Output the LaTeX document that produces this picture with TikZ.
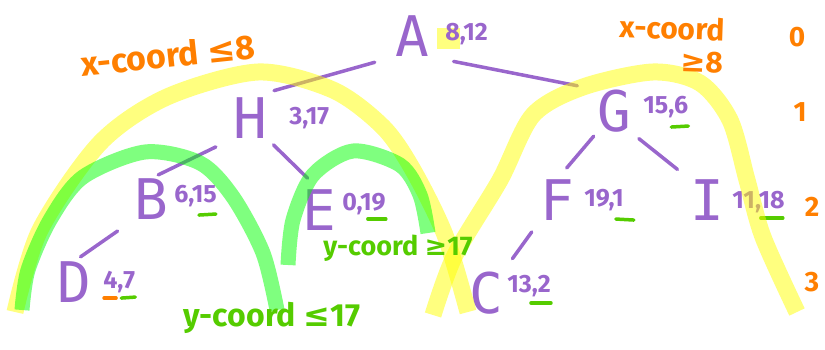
\documentclass[tikz,border=0pt]{standalone}
\usepackage{fontspec}
\setmainfont{Fira Sans}
\newfontfamily\letterfont{DejaVu Sans Mono}
\newfontfamily\symfont{DejaVu Sans}
\usetikzlibrary{positioning}

\begin{document}
\begin{tikzpicture}[x=1pt, y=-1pt,
    letter/.style={text=purpleInk, inner sep=0pt, font=\letterfont\fontsize{56}{56}\selectfont},
    coordlbl/.style={text=purpleInk, inner sep=0pt, font=\bfseries\fontsize{25}{25}\selectfont},
    treeedge/.style={draw=purpleInk, line width=3.5pt, line cap=round},
    orangetxt/.style={text=orangeInk, inner sep=0pt, font=\bfseries\fontsize{34}{34}\selectfont},
    greentxt/.style={text=greenInk, inner sep=0pt, font=\bfseries\fontsize{32}{32}\selectfont},
    levelnum/.style={text=orangeInk, inner sep=0pt, font=\bfseries\fontsize{28}{28}\selectfont},
    splitmark/.style={draw=greenInk, line width=3.5pt, line cap=round},
    xband/.style={draw=yellowInk, line width=17pt, opacity=0.5},
    yband/.style={draw=greenBand, line width=15pt, opacity=0.5}]

    \definecolor{purpleInk}{HTML}{9966CC}
    \definecolor{orangeInk}{HTML}{FF7F00}
    \definecolor{greenInk}{HTML}{55CC00}
    \definecolor{yellowInk}{HTML}{FFFF00}
    \definecolor{greenBand}{HTML}{00FF00}

    \useasboundingbox (0,0) rectangle (825,350);

    % Tree nodes
    \node[letter] (A) at (412,36) {A};
    \node[letter] (H) at (250,118) {H};
    \node[letter] (G) at (614,111) {G};
    \node[letter] (B) at (151,199) {B};
    \node[letter] (E) at (319,210) {E};
    \node[letter] (F) at (557,200) {F};
    \node[letter] (I) at (707,200) {I};
    \node[letter] (D) at (74,282) {D};
    \node[letter] (C) at (486,293) {C};

    % Highlight behind the split value of the root
    \fill[yellowInk, opacity=0.5] ([xshift=8pt,yshift=8pt]A.east) rectangle ++(23,21);

    % Point coordinates
    \node[coordlbl, right=16pt of A, yshift=2pt] (Alab) {8,12};
    \node[coordlbl, right=22pt of H] (Hlab) {3,17};
    \node[coordlbl, right=12pt of G, yshift=4pt] (Glab) {15,6};
    \node[coordlbl, right=6pt of B, yshift=3pt] (Blab) {6,15};
    \node[coordlbl, right=6pt of E, yshift=6pt] (Elab) {0,19};
    \node[coordlbl, right=10pt of F] (Flab) {19,1};
    \node[coordlbl, right=8pt of I, yshift=-2pt] (Ilab) {11,18};
    \node[coordlbl, right=12pt of D] (Dlab) {4,7};
    \node[coordlbl, right=4pt of C, yshift=7pt] (Clab) {13,2};

    % Marks under the compared coordinate
    \draw[splitmark] ([xshift=-17pt,yshift=-9pt]Glab.south east) -- ++(17,-1);
    \draw[splitmark] ([xshift=-18pt,yshift=-8pt]Blab.south east) -- ++(17,-1);
    \draw[splitmark] ([xshift=-18pt,yshift=-4pt]Elab.south east) -- ++(18,0);
    \draw[splitmark] ([xshift=-8pt,yshift=-8pt]Flab.south east) -- ++(18,1);
    \draw[splitmark] ([xshift=-24pt,yshift=-5pt]Ilab.south east) -- ++(22,0);
    \draw[splitmark] ([xshift=-14pt,yshift=-5pt]Dlab.south east) -- ++(14,-1);
    \draw[splitmark, draw=orangeInk] ([xshift=1pt,yshift=-5pt]Dlab.south west) -- ++(12,0);
    \draw[splitmark] ([xshift=-20pt,yshift=-6pt]Clab.south east) -- ++(20,0);

    % Tree edges
    \draw[treeedge, shorten <=21pt, shorten >=25pt] (A.south west) -- (H.north);
    \draw[treeedge, shorten <=25pt, shorten >=20pt] (A.south east) -- (G.north west);
    \draw[treeedge, shorten <=19pt, shorten >=8pt] (H.south west) -- (B.north);
    \draw[treeedge, shorten <=9pt, shorten >=16pt] (H.south east) -- (E.north);
    \draw[treeedge, shorten <=5pt, shorten >=15pt] (G.south west) -- (F.north);
    \draw[treeedge, shorten <=10pt, shorten >=16pt] (G.south east) -- (I.north west);
    \draw[treeedge, shorten <=20pt, shorten >=8pt] (B.south west) -- (D.north);
    \draw[treeedge, shorten <=14pt, shorten >=16pt] (F.south west) -- (C.north east);

    % Split regions
    \draw[xband] plot[smooth] coordinates {(15,312) (40,230) (100,143) (167,97) (258,72) (333,90) (383,127) (413,170) (445,235) (468,312)};
    \draw[xband] plot[smooth] coordinates {(433,315) (455,255) (500,180) (533,115) (583,87) (653,72) (700,83) (730,120) (747,180) (763,237) (797,312)};
    \draw[yband] plot[smooth] coordinates {(22,310) (28,270) (50,220) (83,177) (145,152) (200,163) (233,197) (263,253) (277,310)};
    \draw[yband] plot[smooth] coordinates {(288,265) (293,220) (313,175) (353,151) (400,165) (420,195) (428,233)};

    % Split labels
    \node[orangetxt, rotate=6] (xleft) at (168,55) {x-coord {\symfont≤}8};
    \node[orangetxt, align=right, font=\bfseries\fontsize{30}{32}\selectfont, rotate=-2] (xright) at (672,44) {x-coord\\{\symfont≥}8};
    \node[greentxt] (yleft) at (272,318) {y-coord {\symfont≤}17};
    \node[greentxt, font=\bfseries\fontsize{27}{27}\selectfont] (yright) at (398,248) {y-coord {\symfont≥}17};

    % Tree levels
    \node[levelnum] (lvl0) at (797,37) {0};
    \node[levelnum] (lvl1) at (800,112) {1};
    \node[levelnum] (lvl2) at (812,207) {2};
    \node[levelnum] (lvl3) at (812,282) {3};

\end{tikzpicture}
\end{document}
